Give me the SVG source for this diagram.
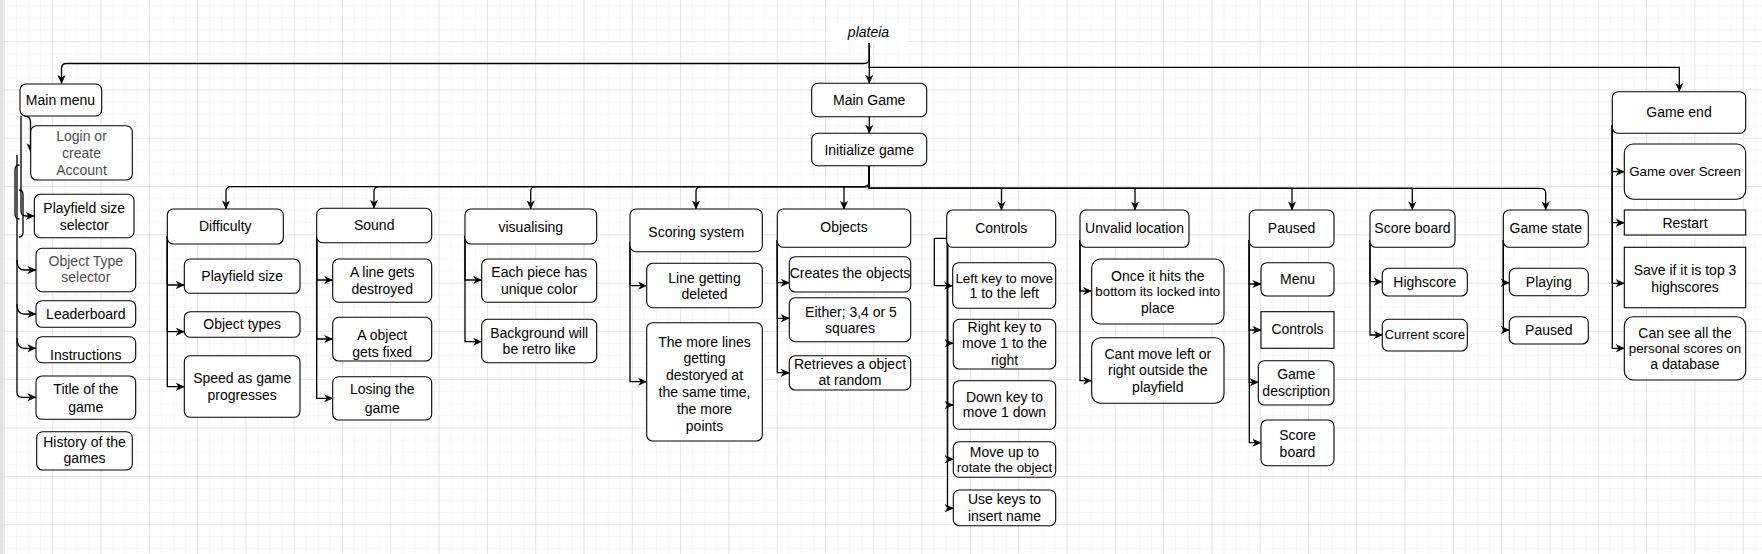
<svg xmlns="http://www.w3.org/2000/svg" width="1762" height="554" viewBox="0 0 1762 554">
<style>
.n rect{fill:#fff;stroke:#000;stroke-width:1.1}
.n text,.lbl{font-family:"Liberation Sans",Arial,Helvetica,sans-serif;font-size:14px;text-anchor:middle;fill:#000}
.n text.s{font-size:13.3px}
.n text.g{fill:#4d4d4d}
.e path{fill:none;stroke:#000;stroke-width:1.3}
.e path.m{marker-end:url(#a)}
</style>
<defs>
<pattern id="minor" x="3.9" y="41.1" width="12.075" height="12.075" patternUnits="userSpaceOnUse"><path d="M0,0H12.075M0,0V12.075" fill="none" stroke="#efefef" stroke-width="1"/></pattern>
<pattern id="major" x="3.9" y="41.1" width="48.3" height="48.3" patternUnits="userSpaceOnUse"><path d="M0,0H48.3M0,0V48.3" fill="none" stroke="#d4d4d4" stroke-width="1"/></pattern>
<marker id="a" viewBox="0 0 10 10" refX="9.5" refY="5" markerWidth="9" markerHeight="9" markerUnits="userSpaceOnUse" orient="auto"><path d="M0,0.5L10,5L0,9.5L2.8,5z" fill="#000"/></marker>
</defs>
<rect width="1762" height="554" fill="#fff"/>
<rect width="1762" height="554" fill="url(#minor)"/>
<rect width="1762" height="554" fill="url(#major)"/>
<rect x="0" y="0" width="3.5" height="554" fill="#e2e2e2"/>

<g id="connectors" class="e">
<path class="m" d="M869.3,43V58.5Q869.3,63.5 864.3,63.5H66.5Q61.5,63.5 61.5,68.5V83.5"/>
<path class="m" d="M869.3,43V83.3"/>
<path class="m" d="M869.3,43V67.3H1679.3V91.5"/>
<path class="m" d="M869.3,116.7V133.3"/>
<path class="m" d="M869.3,166V181.7Q869.3,186.7 864.3,186.7H231Q226,186.7 226,191.7V209"/>
<path class="m" d="M869.3,166V181.7Q869.3,186.7 864.3,186.7H379Q374,186.7 374,191.7V208.3"/>
<path class="m" d="M869.3,166V181.7Q869.3,186.7 864.3,186.7H535.7Q530.7,186.7 530.7,191.7V209"/>
<path class="m" d="M869.3,166V181.7Q869.3,186.7 864.3,186.7H701Q696,186.7 696,191.7V209"/>
<path class="m" d="M869.3,166V186.7H844V209.3"/>
<path class="m" d="M869.3,166V188.3H1001.5V210"/>
<path class="m" d="M869.3,166V188.3H1135V210"/>
<path class="m" d="M869.3,166V188.3H1292V210"/>
<path class="m" d="M869.3,166V188.3H1412.3V210"/>
<path class="m" d="M869.3,166V188.3H1540.7Q1545.7,188.3 1545.7,193.3V210"/>
<path class="m" d="M24,116Q30.5,116 30.5,122V151.7"/>
<path class="m" d="M21,116V211Q21,216 26,216H34.3"/>
<path d="M19.5,165Q15,165 15,170V214Q15,219 19.5,219" stroke-width="1"/>
<path d="M19,190Q23,190 23,195V232Q23,237 19,237" stroke-width="1"/>
<path class="m" d="M17,155V392.3Q17,397.3 22,397.3H36"/>
<path class="m" d="M17,260Q17,270 24,270H36"/>
<path class="m" d="M17,304Q17,314 24,314H36"/>
<path class="m" d="M17,338Q17,348.3 24,348.3H36"/>
<path class="m" d="M167.3,236V285H184.3"/>
<path class="m" d="M167.3,236V331.7H184.3"/>
<path class="m" d="M167.3,236V386.7H184.3"/>
<path class="m" d="M316.7,236V280H332.7"/>
<path class="m" d="M316.7,236V339H332.7"/>
<path class="m" d="M316.7,236V398.3H332.7"/>
<path class="m" d="M465,236V280H481.7"/>
<path class="m" d="M465,236V341.7H481.7"/>
<path class="m" d="M630,242V285.7H646.7"/>
<path class="m" d="M630,242V381.7H646.7"/>
<path class="m" d="M777.3,240V282.7H789.3"/>
<path class="m" d="M777.3,240V318.3H789.3"/>
<path class="m" d="M777.3,240V372.7H789.3"/>
<path class="m" d="M946.7,238.3H934.3V285.7H952.7"/>
<path class="m" d="M947.5,240V343.3H953.3"/>
<path class="m" d="M947.5,240V405H953.3"/>
<path class="m" d="M947.5,240V459.3H953.3"/>
<path class="m" d="M947.5,240V508.3H953.3"/>
<path class="m" d="M1080,240V291H1091.7"/>
<path class="m" d="M1080,240V380.7H1091.7"/>
<path class="m" d="M1249.3,240V284H1261"/>
<path class="m" d="M1249.3,240V330H1261"/>
<path class="m" d="M1249.3,240V382.3H1258.3"/>
<path class="m" d="M1249.3,240V442.7H1261"/>
<path class="m" d="M1370,240V281.7H1382.3"/>
<path class="m" d="M1370,240V335H1382.3"/>
<path class="m" d="M1503.3,240V282.7H1509.3"/>
<path class="m" d="M1503.3,240V330H1509.3"/>
<path class="m" d="M1612.3,125V171.7H1624.3"/>
<path class="m" d="M1612.3,125V222.7H1624.3"/>
<path class="m" d="M1612.3,125V283.3H1624.3"/>
<path class="m" d="M1612.3,125V348.3H1624.3"/>
</g>

<g id="plateia"><rect x="831" y="24" width="77" height="18" fill="#fff"/><text class="lbl" x="868.5" y="37.3" font-style="italic">plateia</text></g>

<g id="main-menu" class="n"><rect x="20" y="84" width="81.7" height="32" rx="6"/><text x="60.5" y="105.3">Main menu</text></g>
<g id="login" class="n"><rect x="30.7" y="125.7" width="101.6" height="54.3" rx="6"/><text class="g" x="81.5" y="140.5">Login or</text><text class="g" x="81.5" y="158.1">create</text><text class="g" x="81.5" y="174.8">Account</text></g>
<g id="playfield-selector" class="n"><rect x="34.3" y="194.3" width="99.7" height="43.4" rx="6"/><text x="84.2" y="213.1">Playfield size</text><text x="84.2" y="229.8">selector</text></g>
<g id="object-type-selector" class="n"><rect x="36" y="248.3" width="99.7" height="43.4" rx="6"/><text class="g" x="85.8" y="265.5">Object Type</text><text class="g" x="85.8" y="282.1">selector</text></g>
<g id="leaderboard" class="n"><rect x="36" y="300.7" width="99.7" height="26.6" rx="6"/><text x="85.8" y="318.8">Leaderboard</text></g>
<g id="instructions" class="n"><rect x="36" y="336.7" width="99.7" height="26" rx="6"/><text x="85.8" y="359.8">Instructions</text></g>
<g id="title" class="n"><rect x="36" y="376" width="99.7" height="43.3" rx="6"/><text x="85.8" y="394.1">Title of the</text><text x="85.8" y="411.5">game</text></g>
<g id="history" class="n"><rect x="36.7" y="431.7" width="95.6" height="38.3" rx="6"/><text x="84.5" y="447.1">History of the</text><text x="84.5" y="463.1">games</text></g>

<g id="main-game" class="n"><rect x="811.7" y="83.3" width="115" height="33.4" rx="6"/><text x="869.2" y="105">Main Game</text></g>
<g id="initialize" class="n"><rect x="811.7" y="133.3" width="115" height="32.4" rx="6"/><text x="869.2" y="154.5">Initialize game</text></g>

<g id="difficulty" class="n"><rect x="167.3" y="209" width="116" height="35" rx="6"/><text x="225.3" y="230.5">Difficulty</text></g>
<g id="playfield-size" class="n"><rect x="184.3" y="259" width="115.7" height="34.3" rx="6"/><text x="242.2" y="280.8">Playfield size</text></g>
<g id="object-types" class="n"><rect x="184.3" y="311.7" width="115.7" height="25.6" rx="6"/><text x="242.2" y="328.8">Object types</text></g>
<g id="speed" class="n"><rect x="184.3" y="355.7" width="115.7" height="61.6" rx="6"/><text x="242.2" y="382.5">Speed as game</text><text x="242.2" y="399.8">progresses</text></g>

<g id="sound" class="n"><rect x="316.7" y="208.3" width="115" height="34.4" rx="6"/><text x="374.2" y="229.8">Sound</text></g>
<g id="line-destroyed" class="n"><rect x="332.7" y="259" width="99" height="43.3" rx="6"/><text x="382.2" y="276.5">A line gets</text><text x="382.2" y="293.8">destroyed</text></g>
<g id="object-fixed" class="n"><rect x="332.7" y="317.3" width="99" height="43.7" rx="6"/><text x="382.2" y="339.8">A object</text><text x="382.2" y="357.1">gets fixed</text></g>
<g id="losing" class="n"><rect x="332.7" y="376.7" width="99" height="43.3" rx="6"/><text x="382.2" y="394.1">Losing the</text><text x="382.2" y="412.5">game</text></g>

<g id="visualising" class="n"><rect x="465" y="209" width="131.7" height="35" rx="6"/><text x="530.8" y="231.5">visualising</text></g>
<g id="unique-color" class="n"><rect x="481.7" y="259" width="115" height="43.3" rx="6"/><text x="539.2" y="276.5">Each piece has</text><text x="539.2" y="293.8">unique color</text></g>
<g id="background" class="n"><rect x="481.7" y="319.3" width="115" height="43.4" rx="6"/><text x="539.2" y="337.5">Background will</text><text x="539.2" y="354.1">be retro like</text></g>

<g id="scoring" class="n"><rect x="630" y="209" width="132.3" height="42.7" rx="6"/><text x="696.2" y="236.5">Scoring system</text></g>
<g id="line-deleted" class="n"><rect x="646.7" y="263.3" width="115.6" height="44.4" rx="6"/><text x="704.5" y="282.5">Line getting</text><text x="704.5" y="299.1">deleted</text></g>
<g id="more-lines" class="n"><rect x="646.7" y="322.7" width="115.6" height="118.3" rx="6"/><text x="704.5" y="346.5">The more lines</text><text x="704.5" y="363.1">getting</text><text x="704.5" y="379.8">destoryed at</text><text x="704.5" y="396.5">the same time,</text><text x="704.5" y="414.1">the more</text><text x="704.5" y="430.5">points</text></g>

<g id="objects" class="n"><rect x="777.3" y="209" width="133.4" height="38.3" rx="6"/><text x="844" y="232.1">Objects</text></g>
<g id="creates" class="n"><rect x="789.3" y="256.7" width="121.4" height="35.3" rx="6"/><text x="850" y="277.5">Creates the objects</text></g>
<g id="either" class="n"><rect x="789.3" y="297.7" width="121.4" height="44" rx="6"/><text x="851" y="316.5">Either; 3,4 or 5</text><text x="850" y="332.5">squares</text></g>
<g id="retrieves" class="n"><rect x="789.3" y="355.7" width="121.4" height="34.3" rx="6"/><text x="850" y="369.1">Retrieves a object</text><text x="850" y="385.1">at random</text></g>

<g id="controls" class="n"><rect x="946.7" y="210" width="109" height="37.3" rx="6"/><text x="1001.2" y="232.5">Controls</text></g>
<g id="left-key" class="n"><rect x="952.7" y="262.7" width="103" height="45.6" rx="6"/><text class="s" x="1004.2" y="282.5">Left key to move</text><text x="1004.2" y="298.1">1 to the left</text></g>
<g id="right-key" class="n"><rect x="953.3" y="319.3" width="102.4" height="49.7" rx="6"/><text x="1004.5" y="332.1">Right key to</text><text x="1004.5" y="348.1">move 1 to the</text><text x="1004.5" y="364.8">right</text></g>
<g id="down-key" class="n"><rect x="953.3" y="380.7" width="102.4" height="48.6" rx="6"/><text x="1004.5" y="401.5">Down key to</text><text x="1004.5" y="417.1">move 1 down</text></g>
<g id="move-up" class="n"><rect x="953.3" y="441.7" width="102.4" height="35.6" rx="6"/><text x="1004.5" y="456.5">Move up to</text><text class="s" x="1004.5" y="472.1">rotate the object</text></g>
<g id="use-keys" class="n"><rect x="953.3" y="490" width="102.4" height="35.7" rx="6"/><text x="1004.5" y="504.1">Use keys to</text><text x="1004.5" y="520.8">insert name</text></g>

<g id="unvalid" class="n"><rect x="1080" y="210" width="109" height="37.3" rx="6"/><text x="1134.5" y="232.5">Unvalid location</text></g>
<g id="locked" class="n"><rect x="1091.7" y="259" width="132.3" height="65" rx="9"/><text x="1157.8" y="280.8">Once it hits the</text><text class="s" x="1157.8" y="295.8">bottom its locked into</text><text x="1157.8" y="312.5">place</text></g>
<g id="cant-move" class="n"><rect x="1091.7" y="337.7" width="132.3" height="65.6" rx="9"/><text x="1157.8" y="359.1">Cant move left or</text><text x="1157.8" y="374.8">right outside the</text><text x="1157.8" y="391.5">playfield</text></g>

<g id="paused" class="n"><rect x="1249.3" y="210" width="84.7" height="37.3" rx="6"/><text x="1291.6" y="232.5">Paused</text></g>
<g id="menu" class="n"><rect x="1261" y="262.7" width="73" height="33.3" rx="6"/><text x="1297.5" y="283.8">Menu</text></g>
<g id="paused-controls" class="n"><rect x="1261" y="311.7" width="73" height="36.6"/><text x="1297.5" y="334.1">Controls</text></g>
<g id="game-description" class="n"><rect x="1258.3" y="360.7" width="75.7" height="44.3" rx="6"/><text x="1296.2" y="379.1">Game</text><text x="1296.2" y="395.5">description</text></g>
<g id="paused-score-board" class="n"><rect x="1261" y="420" width="73" height="45.7" rx="6"/><text x="1297.5" y="439.8">Score</text><text x="1297.5" y="456.5">board</text></g>

<g id="score-board" class="n"><rect x="1370" y="210" width="85" height="37.3" rx="6"/><text x="1412.5" y="232.5">Score board</text></g>
<g id="highscore" class="n"><rect x="1382.3" y="268.3" width="85" height="27.7" rx="6"/><text x="1424.8" y="286.5">Highscore</text></g>
<g id="current-score" class="n"><rect x="1382.3" y="319.3" width="85" height="31.7" rx="6"/><text class="s" x="1424.8" y="339.1">Current score</text></g>

<g id="game-state" class="n"><rect x="1503.3" y="210" width="85" height="37.3" rx="6"/><text x="1545.8" y="232.5">Game state</text></g>
<g id="playing" class="n"><rect x="1509.3" y="268.3" width="79" height="27.4" rx="6"/><text x="1548.8" y="286.5">Playing</text></g>
<g id="state-paused" class="n"><rect x="1509.3" y="316.7" width="79" height="27.3" rx="6"/><text x="1548.8" y="334.8">Paused</text></g>

<g id="game-end" class="n"><rect x="1612.3" y="91.7" width="133.4" height="41.6" rx="6"/><text x="1679" y="116.5">Game end</text></g>
<g id="game-over" class="n"><rect x="1624.3" y="144" width="121.4" height="55.3" rx="9"/><text class="s" x="1685" y="175.5">Game over Screen</text></g>
<g id="restart" class="n"><rect x="1624.3" y="210" width="121.4" height="25"/><text x="1685" y="227.5">Restart</text></g>
<g id="save" class="n"><rect x="1624.3" y="247.3" width="121.4" height="60.4"/><text x="1685" y="274.8">Save if it is top 3</text><text x="1685" y="291.5">highscores</text></g>
<g id="personal-scores" class="n"><rect x="1624.3" y="316.7" width="121.4" height="63.3" rx="9"/><text x="1685" y="337.5">Can see all the</text><text class="s" x="1685" y="352.5">personal scores on</text><text x="1685" y="369.1">a database</text></g>
</svg>
